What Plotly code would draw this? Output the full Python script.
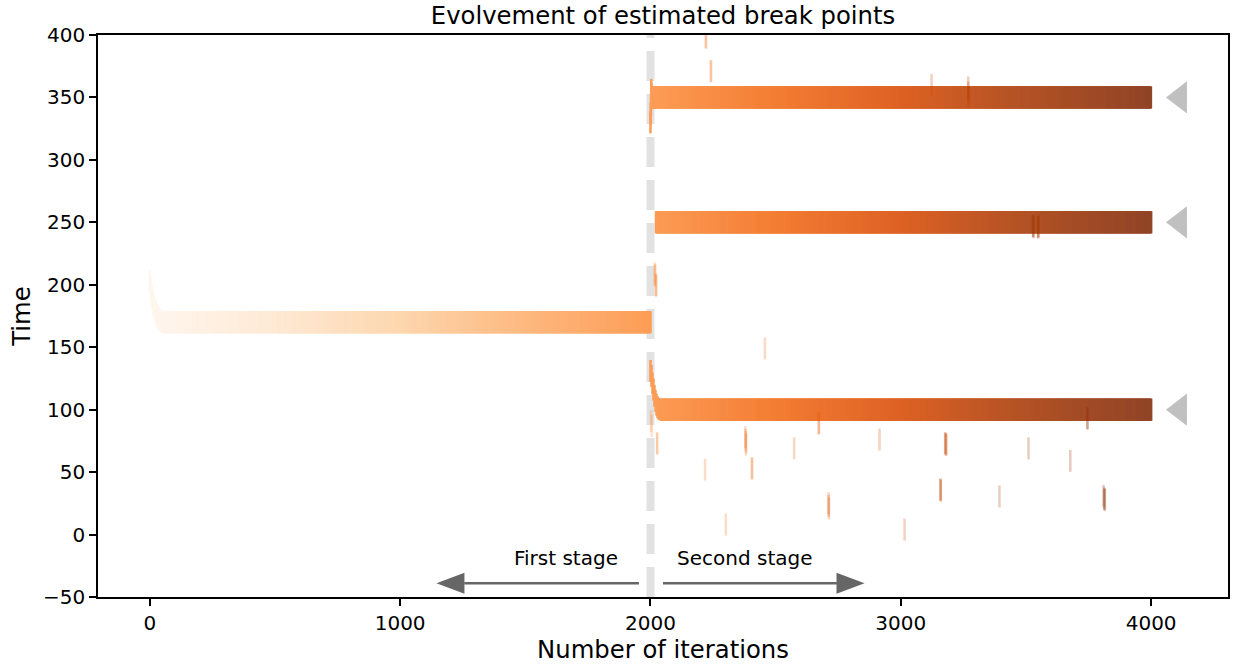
import numpy as np
import plotly.graph_objects as go

# ---- data -------------------------------------------------------------
N_ITER = 4000
STAGE_SWITCH = 2000

# settled stretches of a break point: first iteration, last iteration, time
run_first = [50, 2007, 2022, 2040]
run_last = [2000, 4000, 4000, 4000]
run_time = [170, 350, 250, 100]

# first-stage burn-in (iteration, time)
burnin_iter = [0, 4, 8, 12, 16, 20, 24, 28, 32, 36, 40, 44, 48]
burnin_time = [203, 197, 192, 188, 184, 181, 178, 176, 174, 173, 172, 171, 170.5]

# second-stage start-up of the break points near 350 and 100
startup_iter = [2000, 2001, 2002, 2003, 2004, 2005,
                2000, 2004, 2008, 2012, 2016, 2020, 2024, 2028, 2032, 2036]
startup_time = [330, 337, 344, 356, 353, 351,
                131, 127, 121, 116, 111, 107, 104, 102, 101, 100.5]

# stray proposals, one entry per iteration spent there
stray_iter = [2002, 2005, 2017, 2018, 2019, 2021, 2022, 2023, 2026, 2027, 2218,
              2221, 2222, 2241, 2242, 2301, 2379, 2380, 2381, 2382, 2405, 2406,
              2457, 2574, 2672, 2673, 2711, 2712, 2713, 2915, 3015, 3123, 3158,
              3159, 3160, 3177, 3178, 3180, 3182, 3269, 3270, 3271, 3394, 3510,
              3528, 3529, 3530, 3548, 3549, 3550, 3677, 3745, 3746, 3810, 3812,
              3814, 3815]
stray_time = [91, 87, 209, 208, 207, 200, 199, 200, 73, 73, 52,
              398, 398, 371, 371, 8, 78, 76, 74, 72, 53, 53,
              149, 69, 89, 89, 25, 23, 21, 76, 4, 360, 36,
              36, 35, 73, 73, 72, 72, 358, 354, 350, 30.5, 69,
              247, 247, 246, 246, 246, 247, 59, 93, 93, 31, 29,
              28, 28]

true_break = [100, 250, 350]

x_ticks = [0, 1000, 2000, 3000, 4000]
y_ticks = [-50, 0, 50, 100, 150, 200, 250, 300, 350, 400]

# stage arrows: tail, head base, tip (iterations) and labels
arrow_tail = [1954, 2050]
arrow_base = [1256, 2748]
arrow_tip = [1145, 2855]
arrow_level = -39
stage_label = ["First stage", "Second stage"]
stage_label_x = [1661, 2375]
stage_label_y = -18.7

# ---- colours ------------------------------------------------------------
ORANGES = ["#fff5eb", "#fee6ce", "#fdd0a2", "#fdae6b", "#fd8d3c",
           "#f16913", "#d94801", "#a63603", "#7f2704"]


def over_white(hex_color, alpha):
    rgb = [int(hex_color[i:i + 2], 16) for i in (1, 3, 5)]
    r, g, b = [round(alpha * c + (1 - alpha) * 255) for c in rgb]
    return f"rgb({r},{g},{b})"


band_scale = [[i / 8, over_white(c, 0.86)] for i, c in enumerate(ORANGES)]
hit_scale = [[i / 8, c] for i, c in enumerate(ORANGES)]

# ---- traces -------------------------------------------------------------
band_x = [np.asarray(burnin_iter), np.asarray(startup_iter)]
band_y = [np.asarray(burnin_time, float), np.asarray(startup_time, float)]
for first, last, t in zip(run_first, run_last, run_time):
    it = np.arange(first, last + 1, 2)
    band_x.append(it)
    band_y.append(np.full(it.size, float(t)))
band_x = np.concatenate(band_x)
band_y = np.concatenate(band_y)
order = np.argsort(band_x, kind="stable")
band_x, band_y = band_x[order], band_y[order]

FONT = "DejaVu Sans"
TICK_PX = 20
LABEL_PX = 24.3

fig = go.Figure()

fig.add_trace(go.Scatter(
    x=band_x, y=band_y, mode="markers", hoverinfo="skip", showlegend=False,
    marker=dict(symbol="line-ns", size=15.7,
                line=dict(width=2.5, color=band_x, colorscale=band_scale,
                          cmin=0, cmax=N_ITER)),
))

fig.add_trace(go.Scatter(
    x=stray_iter, y=stray_time, mode="markers", hoverinfo="skip", showlegend=False,
    marker=dict(symbol="line-ns", size=15.7, opacity=0.25,
                line=dict(width=2.5, color=stray_iter, colorscale=hit_scale,
                          cmin=0, cmax=N_ITER)),
))

fig.add_trace(go.Scatter(
    x=[4115] * len(true_break), y=true_break, mode="markers",
    hoverinfo="skip", showlegend=False,
    marker=dict(symbol="triangle-left", size=28, color="#c0c0c0",
                line=dict(width=0)),
))

shapes = [dict(type="line", xref="x", yref="y", x0=STAGE_SWITCH, x1=STAGE_SWITCH,
               y0=-50, y1=400, layer="below",
               line=dict(color="#e2e2e2", width=8, dash="30px,13px"))]
for tail, base, tip in zip(arrow_tail, arrow_base, arrow_tip):
    shapes.append(dict(type="line", xref="x", yref="y", x0=tail, x1=base,
                       y0=arrow_level, y1=arrow_level,
                       line=dict(color="#666666", width=2.6)))
    d = 1 if tip < tail else -1
    shapes.append(dict(type="path", xref="x", yref="y",
                       xsizemode="pixel", ysizemode="pixel",
                       xanchor=tip, yanchor=arrow_level,
                       path=f"M0,0 L{28 * d},10.5 L{28 * d},-10.5 Z",
                       fillcolor="#666666", line=dict(width=0)))

annotations = [dict(x=x, y=stage_label_y, xref="x", yref="y", text=t,
                    showarrow=False, font=dict(family=FONT, size=TICK_PX, color="black"))
               for x, t in zip(stage_label_x, stage_label)]

axis_common = dict(showline=True, mirror=True, linecolor="black", linewidth=1.5,
                   ticks="outside", ticklen=7, tickwidth=1.5, tickcolor="black",
                   showgrid=False, zeroline=False,
                   tickfont=dict(family=FONT, size=TICK_PX, color="black"))

fig.update_layout(
    width=1233, height=664,
    margin=dict(l=98, r=3, t=35, b=67),
    plot_bgcolor="white", paper_bgcolor="white",
    title=dict(text="Evolvement of estimated break points",
               font=dict(family=FONT, size=LABEL_PX, color="black"),
               x=0.5, xref="paper", y=1 - 15 / 664, yref="container",
               xanchor="center", yanchor="middle"),
    xaxis=dict(range=[-207, 4307], tickvals=x_ticks, **axis_common,
               title=dict(text="Number of iterations", standoff=6,
                          font=dict(family=FONT, size=LABEL_PX, color="black"))),
    yaxis=dict(range=[-50, 400], tickvals=y_ticks, **axis_common,
               title=dict(text="Time", standoff=6,
                          font=dict(family=FONT, size=LABEL_PX, color="black"))),
    shapes=shapes,
    annotations=annotations,
)

fig.write_html("out.html")
